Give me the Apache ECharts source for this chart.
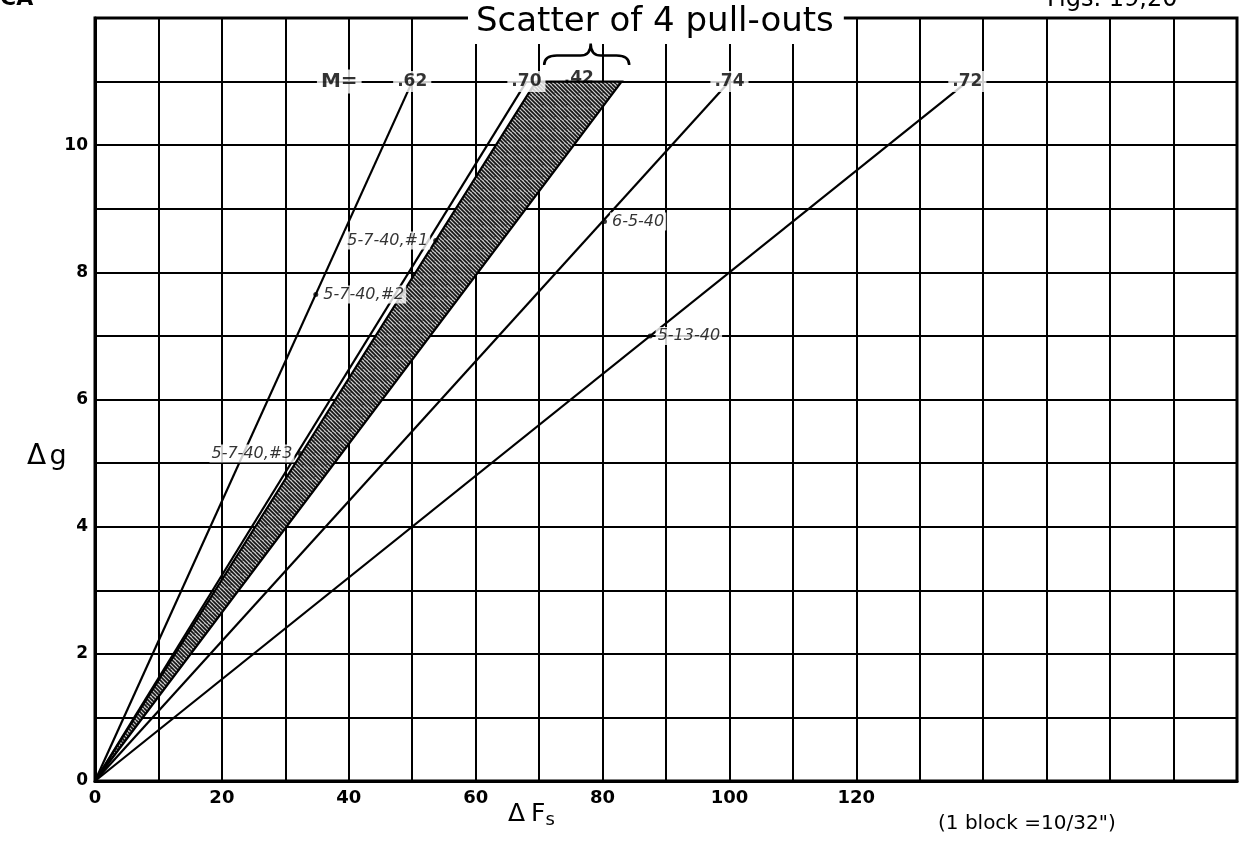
<!DOCTYPE html>
<html>
<head>
<meta charset="utf-8">
<title>Δg vs ΔFs</title>
<script src="https://cdn.jsdelivr.net/npm/echarts@6/dist/echarts.min.js"></script>
<style>
  html, body { margin: 0; padding: 0; background: #fff; }
  #chart { width: 1246px; height: 856px; }
</style>
</head>
<body>
<div id="chart"></div>
<script>
// Axis tick labels that carry numbers
const fsTicks = [0, 20, 40, 60, 80, 100, 120];
const gTicks = [0, 2, 4, 6, 8, 10];

// Straight lines through the origin, each ending at Δg = 11
const fitM = ['.62', '.70', '.74', '.72'];
const fitEndFs = [50, 68, 100, 137.5];
const fitEndG = 11;

// Scatter band of the four pull-outs (M = .42)
const bandM = '.42';
const bandEndFs = [69.5, 83];
const bandEndG = 11;

// Individual runs marked on the lines
const runNames = ['5-7-40,#1', '5-7-40,#2', '5-7-40,#3', '6-5-40', '5-13-40'];
const runFs = [53.7, 34.8, 32.3, 80.3, 87.5];
const runG = [8.5, 7.65, 5.15, 8.8, 7.0];

const INK = '#000';
const FONT = 'DejaVu Sans';

// Hand hatching used inside the scatter band
function makeHatch() {
  const c = document.createElement('canvas');
  c.width = 12; c.height = 12;
  const g = c.getContext('2d');
  g.fillStyle = '#c8c8c8';
  g.fillRect(0, 0, 12, 12);
  g.fillStyle = '#7a7a7a';
  g.fillRect(2, 8, 2, 1); g.fillRect(8, 3, 1, 2);
  g.strokeStyle = '#151515';
  g.lineWidth = 1.6;
  g.beginPath();
  for (let k = -12; k <= 24; k += 4) { g.moveTo(k, 0); g.lineTo(k + 12, 12); }
  g.stroke();
  return c;
}
const hatch = makeHatch();

const chart = echarts.init(document.getElementById('chart'), null, { renderer: 'canvas' });

const fitSeries = fitM.map((m, i) => ({
  type: 'line',
  name: 'M ' + m,
  data: [[0, 0], [fitEndFs[i], fitEndG]],
  symbol: 'none',
  silent: true,
  z: 4,
  lineStyle: { color: INK, width: 2.2 }
}));

// Labels of M along the Δg = 11 line (placed at each line's end)
const mLabelItems = [{ value: [38.5, fitEndG], name: 'M=', label: { fontSize: 20 } }]
  .concat(fitM.map((m, i) => ({ value: [fitEndFs[i], fitEndG], name: m })))
  .concat([{ value: [(bandEndFs[0] + bandEndFs[1]) / 2, bandEndG], name: bandM,
             label: { backgroundColor: 'transparent', offset: [0, -3] } }]);

const runSide = ['left', 'right', 'left', 'right', 'right'];

const option = {
  animation: false,
  backgroundColor: '#fff',
  title: {
    text: 'Scatter of 4 pull-outs',
    left: 468,
    top: 1,
    padding: [6, 10, 5, 8],
    backgroundColor: '#fff',
    textStyle: { fontSize: 34, fontWeight: 'normal', color: INK, fontFamily: FONT, lineHeight: 30 }
  },
  grid: {
    left: 95, right: 9, top: 18, bottom: 75,
    show: true, borderColor: INK, borderWidth: 3, backgroundColor: '#fff'
  },
  xAxis: {
    type: 'value', min: 0, max: 180, interval: 10,
    axisLine: { show: true, onZero: false, lineStyle: { color: INK, width: 3 } },
    axisTick: { show: false },
    splitLine: { show: true, lineStyle: { color: INK, width: 2 } },
    axisLabel: {
      formatter: v => (fsTicks.includes(v) ? String(v) : ''),
      color: INK, fontSize: 18, fontWeight: 'bold', fontFamily: FONT, margin: 8
    }
  },
  yAxis: {
    type: 'value', min: 0, max: 12, interval: 1,
    axisLine: { show: true, onZero: false, lineStyle: { color: INK, width: 3 } },
    axisTick: { show: false },
    splitLine: { show: true, lineStyle: { color: INK, width: 2 } },
    axisLabel: {
      formatter: v => (gTicks.includes(v) ? String(v) : ''),
      color: INK, fontSize: 17, fontWeight: 'bold', fontFamily: FONT, margin: 7
    }
  },
  series: [
    {
      type: 'custom',
      name: 'scatter band',
      silent: true,
      z: 3,
      data: [[bandEndFs[0], bandEndG]],
      renderItem(params, api) {
        const p0 = api.coord([0, 0]);
        const p1 = api.coord([bandEndFs[0], bandEndG]);
        const p2 = api.coord([bandEndFs[1], bandEndG]);
        return {
          type: 'polygon',
          shape: { points: [p0, p1, p2] },
          style: { fill: { image: hatch, repeat: 'repeat' }, stroke: INK, lineWidth: 2.2 }
        };
      }
    },
    {
      type: 'custom',
      name: 'brace',
      silent: true,
      z: 7,
      data: [[70.8, 84.2]],
      renderItem(params, api) {
        const l = api.coord([70.8, 11.26]);
        const r = api.coord([84.2, 11.26]);
        const ym = api.coord([0, 11.41])[1];
        const yt = api.coord([0, 11.6])[1];
        const xc = (l[0] + r[0]) / 2 + 4;
        const w = r[0] - l[0];
        const d = [
          'M', l[0], l[1],
          'Q', l[0], ym, l[0] + w * 0.15, ym,
          'L', xc - w * 0.12, ym,
          'Q', xc, ym, xc, yt,
          'Q', xc, ym, xc + w * 0.12, ym,
          'L', r[0] - w * 0.15, ym,
          'Q', r[0], ym, r[0], r[1]
        ].join(' ');
        return {
          type: 'path',
          shape: { pathData: d },
          style: { fill: null, stroke: INK, lineWidth: 2.5 }
        };
      }
    },
    ...fitSeries,
    {
      type: 'scatter',
      name: 'M labels',
      silent: true,
      symbolSize: 0,
      z: 6,
      data: mLabelItems,
      label: {
        show: true,
        position: 'inside',
        formatter: p => p.name,
        color: INK, fontSize: 17, fontWeight: 'bold', fontFamily: FONT,
        backgroundColor: '#fff', padding: [2, 4]
      }
    },
    {
      type: 'scatter',
      name: 'runs',
      silent: true,
      symbol: 'circle',
      symbolSize: 5,
      z: 6,
      itemStyle: { color: INK },
      data: runNames.map((n, i) => ({
        value: [runFs[i], runG[i]],
        name: n,
        label: { position: runSide[i] }
      })),
      label: {
        show: true,
        formatter: p => p.name,
        color: INK, fontSize: 16, fontFamily: FONT, fontStyle: 'italic',
        backgroundColor: '#fff', padding: [1, 2], distance: 3
      }
    }
  ],
  graphic: [
    {
      type: 'text', left: 0, top: -12, silent: true,
      style: { text: 'CA', font: 'bold 22px ' + FONT, fill: INK }
    },
    {
      type: 'text', left: 1047, top: -12, silent: true,
      style: { text: 'Figs. 19,20', font: '24px ' + FONT, fill: INK }
    },
    {
      type: 'text', left: 27, top: 443, silent: true,
      style: {
        text: '{d|Δ} {g|g}',
        rich: {
          d: { fontSize: 28, fontFamily: FONT, fill: INK },
          g: { fontSize: 27, fontFamily: FONT, fill: INK }
        }
      }
    },
    {
      type: 'text', left: 508, top: 802, silent: true,
      style: {
        text: '{d|Δ}{f|F}{s|s}',
        rich: {
          d: { fontSize: 25, fontFamily: FONT, fill: INK, padding: [0, 6, 0, 0] },
          f: { fontSize: 25, fontFamily: FONT, fill: INK },
          s: { fontSize: 18, fontFamily: FONT, fill: INK, padding: [12, 0, 0, 0] }
        }
      }
    },
    {
      type: 'text', left: 938, top: 814, silent: true,
      style: { text: '(1 block =10/32")', font: '20px ' + FONT, fill: INK }
    }
  ]
};

chart.setOption(option);
</script>
</body>
</html>
